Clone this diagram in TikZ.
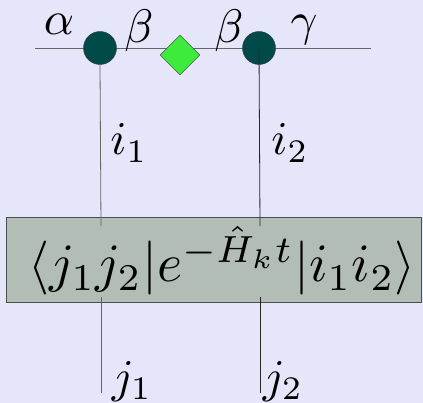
\documentclass[tikz,border=0pt]{standalone}
\usepackage{amsmath}
\usetikzlibrary{shapes.geometric}
\definecolor{bgLav}{RGB}{230,230,250}
\definecolor{boxAsh}{RGB}{178,190,181}
\definecolor{siteTeal}{RGB}{0,75,73}
\definecolor{bondGreen}{RGB}{60,235,60}
\begin{document}
\begin{tikzpicture}[x=1pt, y=-1pt,
        site/.style={circle, draw=black!80, fill=siteTeal, minimum size=33pt, inner sep=0pt},
        bond/.style={diamond, draw=black!80, fill=bondGreen, minimum size=40pt, inner sep=0pt},
        leg/.style={gray!80!black, line width=0.8pt},
        lbl/.style={scale=4.7, inner sep=0pt}]
        % Background and bounding box
        \fill[bgLav] (0, 0) rectangle (423, 403);
        \useasboundingbox (0, 0) rectangle (423, 403);

        % Chain line with sites and bond
        \coordinate (wl) at (35, 48);
        \coordinate (wr) at (371, 48);
        \draw[leg] (wl) -- (wr);
        \node[site] (s1) at (100, 48) {};
        \node[site] (s2) at (259, 48) {};
        \node[bond] (b) at (180, 55) {};

        % Bond indices
        \node[lbl] (alpha) at (59, 24) {\( \alpha \)};
        \node[lbl] (beta1) at (139, 31) {\( \beta \)};
        \node[lbl] (beta2) at (229, 31) {\( \beta \)};
        \node[lbl] (gamma) at (304, 30) {\( \gamma \)};

        % Propagator box
        \node[draw=black!70, fill=boxAsh, line width=0.8pt, minimum width=415pt, minimum height=85pt, inner sep=0pt] (prop) at (213.5, 259.5) {};
        \node[scale=5.4, inner sep=0pt] (amp) at (222, 261) {\( \langle j_1 j_2 | e^{-\hat{H}_k t} | i_1 i_2 \rangle \)};

        % Physical legs
        \coordinate (in1) at (101, 226);
        \coordinate (in2) at (260, 226);
        \coordinate (out1) at (101, 297);
        \coordinate (out2) at (260, 297);
        \coordinate (end1) at (101, 393);
        \coordinate (end2) at (260, 393);
        \draw[leg] (s1.south) -- (in1);
        \draw[black!85, line width=0.8pt] (s2.center) -- (in2);
        \draw[leg] (out1) -- (end1);
        \draw[black!85, line width=0.8pt] (out2) -- (end2);

        % Leg labels
        \node[lbl] (i1) at (129, 143) {\( i_1 \)};
        \node[lbl] (i2) at (290, 143) {\( i_2 \)};
        \node[lbl] (j1) at (132, 382) {\( j_1 \)};
        \node[lbl] (j2) at (283, 382) {\( j_2 \)};
    \end{tikzpicture}
\end{document}
